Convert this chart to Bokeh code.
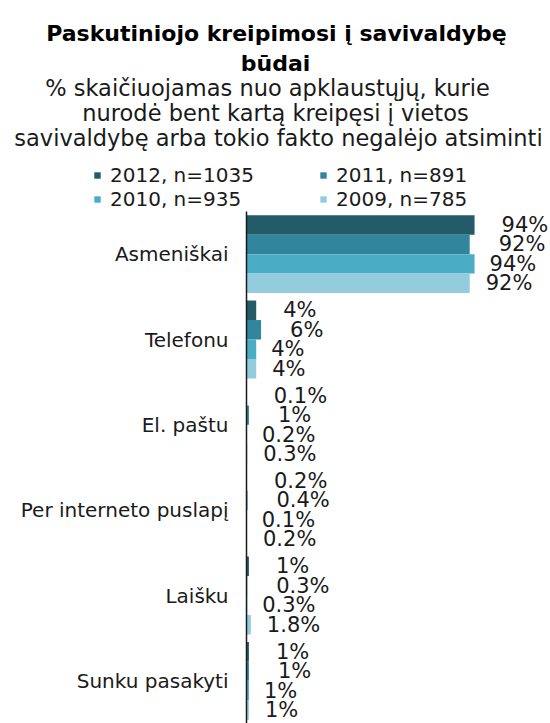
from bokeh.plotting import figure
from bokeh.models import (ColumnDataSource, Range1d, Label, Legend, LegendItem,
                          FixedTicker)
from bokeh.transform import dodge
from bokeh.core.properties import value
from bokeh.embed import file_html
from bokeh.resources import INLINE

# ---- data ----
title_lines = ["Paskutiniojo kreipimosi į savivaldybę", "būdai"]
subtitle_lines = [
    "% skaičiuojamas nuo apklaustųjų, kurie",
    "nurodė bent kartą kreipęsi į vietos",
    "savivaldybę arba tokio fakto negalėjo atsiminti",
]
categories = ["Asmeniškai", "Telefonu", "El. paštu", "Per interneto puslapį",
              "Laišku", "Sunku pasakyti"]
series_names = ["2012, n=1035", "2011, n=891", "2010, n=935", "2009, n=785"]
v2012 = [94, 4, 0.1, 0.2, 1, 1]
v2011 = [92, 6, 1, 0.4, 0.3, 1]
v2010 = [94, 4, 0.2, 0.1, 0.3, 1]
v2009 = [92, 4, 0.3, 0.2, 1.8, 1]

# ---- style / layout ----
FONT = "DejaVu Sans"
TXT = "#1a1a1a"
colors = ["#235B69", "#31859C", "#4BACC6", "#93CDDD"]
dodges = [0.342, 0.114, -0.114, -0.342]
label_offsets = [27, 29, 15, 16]
BAR_H = 0.228
W, H = 550, 723
HEAD_H = 211          # pixels above the bars
AXIS_PX = 246         # pixel position of the value axis
XMAX = 125.3

n = len(categories)
ypos = [n - 1 - i for i in range(n)]          # first category on top

keys = ["s2012", "s2011", "s2010", "s2009"]
data = dict(cat=categories, ypos=ypos)
for k, vals in zip(keys, [v2012, v2011, v2010, v2009]):
    data[k] = vals
    data[k + "_lbl"] = [f"{v:g}%" for v in vals]
source = ColumnDataSource(data)

y_top = n - 0.5 + HEAD_H * n / (H - HEAD_H)
p = figure(width=W, height=H,
           x_range=Range1d(-XMAX * AXIS_PX / (W - AXIS_PX), XMAX),
           y_range=Range1d(-0.5, y_top),
           x_axis_location=None,
           output_backend="svg", toolbar_location=None,
           min_border_left=0, min_border_right=0,
           min_border_top=0, min_border_bottom=0)
p.outline_line_color = None
p.grid.visible = False

items = []
for k, name, c, d, off in zip(keys, series_names, colors, dodges, label_offsets):
    r = p.hbar(y=dodge("ypos", d), left=0, right=k, height=BAR_H,
               fill_color=c, line_color=None, source=source)
    items.append(LegendItem(label=name, renderers=[r]))
    p.text(x=k, y=dodge("ypos", d), text=k + "_lbl", source=source,
           x_offset=off, text_align="left", text_baseline="middle",
           text_font=value(FONT), text_font_size="21px", text_color=TXT)

yax = p.yaxis[0]
yax.fixed_location = 0
yax.bounds = (-0.5, n - 0.5)
yax.ticker = FixedTicker(ticks=ypos)
yax.major_label_overrides = {y: c for y, c in zip(ypos, categories)}
yax.axis_line_color = TXT
yax.axis_line_width = 1.5
yax.major_tick_line_color = None
yax.minor_tick_line_color = None
yax.major_tick_out = 0
yax.major_tick_in = 0
yax.major_label_standoff = 18
yax.major_label_text_font = FONT
yax.major_label_text_font_size = "20px"
yax.major_label_text_color = TXT

legend = Legend(items=items, location=(93, H - HEAD_H), orientation="horizontal",
                ncols=2, glyph_width=8, glyph_height=8, label_width=209,
                label_height=24, label_standoff=9, spacing=0, padding=2, margin=0,
                label_text_font=FONT, label_text_font_size="20px",
                label_text_color=TXT, border_line_color=None,
                background_fill_alpha=0)
p.add_layout(legend)

# header text: (text, centre x, baseline from the top, size, bold?)
header = [
    (title_lines[0], 276, 33, "22px", True),
    (title_lines[1], 275, 63, "22px", True),
    (subtitle_lines[0], 267, 87, "22.5px", False),
    (subtitle_lines[1], 275, 112, "22.5px", False),
    (subtitle_lines[2], 278, 137, "22.5px", False),
]
for text, cx, base, size, bold in header:
    p.add_layout(Label(x=cx, y=H - base, x_units="screen", y_units="screen",
                       text=text, text_align="center", text_baseline="alphabetic",
                       text_font=FONT, text_font_size=size,
                       text_font_style="bold" if bold else "normal",
                       text_color="#000000" if bold else TXT))

open("out.html", "w").write(file_html(p, INLINE))
